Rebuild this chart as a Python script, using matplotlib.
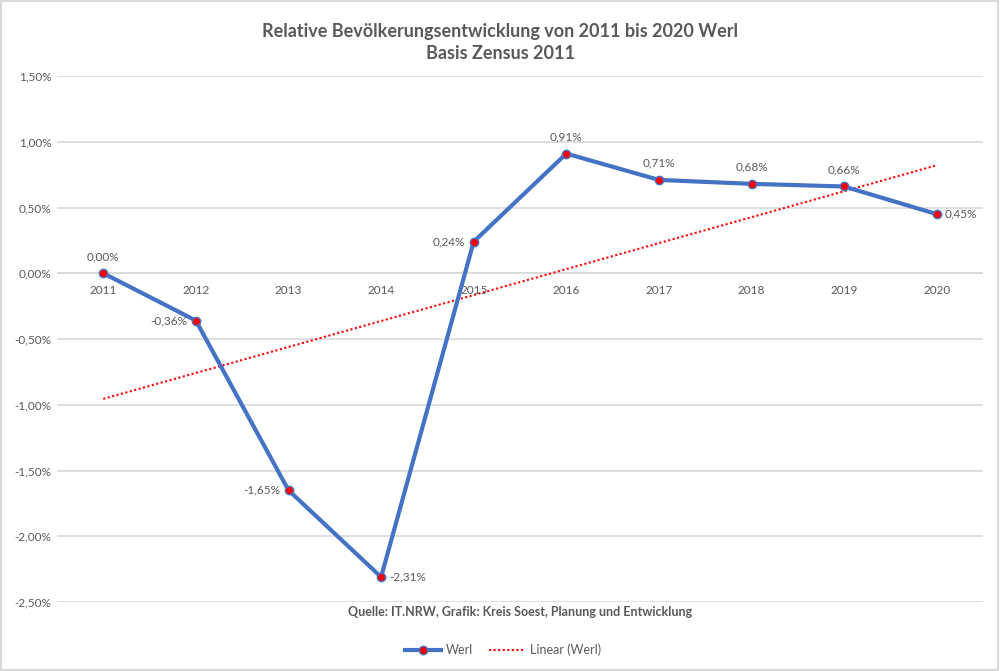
import numpy as np
import matplotlib
matplotlib.use("Agg")
import matplotlib.pyplot as plt
from matplotlib.ticker import FuncFormatter
from matplotlib.patches import Rectangle

years = ["2011", "2012", "2013", "2014", "2015", "2016", "2017", "2018", "2019", "2020"]
werl = [0.00, -0.36, -1.65, -2.31, 0.24, 0.91, 0.71, 0.68, 0.66, 0.45]
label_pos = ["above", "left", "left", "right", "left", "above", "above", "above", "above", "right"]
yticks = [1.5, 1.0, 0.5, 0.0, -0.5, -1.0, -1.5, -2.0, -2.5]

plt.rcParams['font.family'] = ['Lato', 'DejaVu Sans']
grey = "#595959"

fig = plt.figure(figsize=(10, 6.71), dpi=100)
ax = fig.add_axes([0.057, 0.1028, 0.926, 0.7839])
x = np.arange(len(years))

ax.set_xlim(-0.5, len(years) - 0.5)
ax.set_ylim(-2.5, 1.5)
ax.set_yticks(yticks)
ax.yaxis.set_major_formatter(FuncFormatter(lambda v, p: f"{v:.2f}%".replace(".", ",")))
ax.grid(axis='y', color="#d9d9d9", lw=1.2)
ax.set_axisbelow(True)
for s in ax.spines.values():
    s.set_visible(False)
ax.tick_params(axis='y', length=0, labelsize=8.5, labelcolor=grey, pad=4)
ax.set_xticks([])

# zero line
ax.axhline(0, color="#d9d9d9", lw=1.2, zorder=1)
for xi, yl in zip(x, years):
    ax.annotate(yl, (xi, 0), xytext=(0, -8.5), textcoords='offset points',
                ha='center', va='top', fontsize=8.5, color=grey)

# trendline
coef = np.polyfit(x, werl, 1)
trend = np.polyval(coef, x)
ax.plot(x, trend, ls=(0, (1, 1.2)), color="#ff0000", lw=1.5, zorder=2, label="Linear (Werl)")

ax.plot(x, werl, color="#4472C4", lw=3, marker='o', markersize=6,
        markerfacecolor="#ff0000", markeredgecolor="#4472C4", markeredgewidth=1,
        zorder=3, label="Werl")

for xi, v, pos in zip(x, werl, label_pos):
    t = f"{v:.2f}%".replace(".", ",")
    if pos == "above":
        ax.annotate(t, (xi, v), xytext=(0, 8), textcoords='offset points', ha='center', va='bottom', fontsize=8.5, color=grey)
    elif pos == "left":
        ax.annotate(t, (xi, v), xytext=(-6, 0), textcoords='offset points', ha='right', va='center', fontsize=8.5, color=grey)
    else:
        ax.annotate(t, (xi, v), xytext=(6, 0), textcoords='offset points', ha='left', va='center', fontsize=8.5, color=grey)

fig.text(0.5, 0.965, "Relative Bevölkerungsentwicklung von 2011 bis 2020 Werl\nBasis Zensus 2011",
         ha='center', va='top', fontsize=13, fontweight='bold', color=grey, linespacing=1.3)
fig.text(0.52, 0.088, "Quelle: IT.NRW, Grafik: Kreis Soest, Planung und Entwicklung",
         ha='center', va='center', fontsize=9, fontweight='bold', color=grey)

h, l = ax.get_legend_handles_labels()
leg = fig.legend(h[::-1], l[::-1], loc='center', bbox_to_anchor=(0.503, 0.031), ncol=2, frameon=False,
                 fontsize=9, labelcolor=grey, handlelength=2.9, handletextpad=0.35, columnspacing=1.3)

fig.patches.append(Rectangle((0.001, 0.001), 0.997, 0.997, transform=fig.transFigure,
                             fill=False, edgecolor="#d9d9d9", lw=1.5))

fig.savefig("out.png", dpi=100, facecolor="white")
